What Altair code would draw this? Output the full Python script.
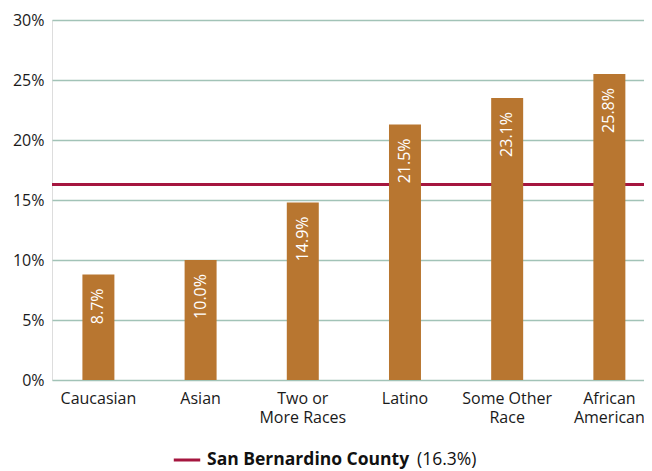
import altair as alt
import pandas as pd

categories = ["Caucasian", "Asian", "Two or More Races", "Latino", "Some Other Race", "African American"]
bar_values = [8.8, 10.0, 14.8, 21.3, 23.5, 25.5]
bar_labels = ["8.7%", "10.0%", "14.9%", "21.5%", "23.1%", "25.8%"]
county_name = "San Bernardino County"
county_value = 16.3
y_ticks = [0, 5, 10, 15, 20, 25, 30]

FONT = "Open Sans"
BAR = "#b87630"
RED = "#a5163f"
GRID = "#a2c3b7"
TXT = "#1a1a1a"

bars_df = pd.DataFrame({"cat": categories, "value": bar_values, "label": bar_labels})
county_df = pd.DataFrame({"series": [county_name], "value": [county_value]})
note_df = pd.DataFrame({"t": [f"({county_value}%)"]})

x_enc = alt.X(
    "cat:N",
    sort=categories,
    title=None,
    scale=alt.Scale(paddingInner=0.687, paddingOuter=0.24, align=0.62),
    axis=alt.Axis(
        labelAngle=0,
        domain=False,
        ticks=False,
        labelPadding=10,
        labelFontSize=16,
        labelFont=FONT,
        labelColor=TXT,
        labelLineHeight=19,
        labelExpr="datum.label == 'Two or More Races' ? ['Two or', 'More Races'] : "
                  "datum.label == 'Some Other Race' ? ['Some Other', 'Race'] : "
                  "datum.label == 'African American' ? ['African', 'American'] : datum.label",
    ),
)
y_scale = alt.Scale(domain=[0, 30], nice=False)
y_axis = alt.Axis(
    values=y_ticks,
    labelExpr="datum.value + '%'",
    domain=False,
    ticks=False,
    grid=True,
    gridColor=GRID,
    gridWidth=1.5,
    labelPadding=8,
    labelFontSize=16,
    labelFont=FONT,
    labelColor=TXT,
    title=None,
)

county_rule = alt.Chart(county_df).mark_rule(strokeWidth=3).encode(
    y=alt.Y("value:Q", scale=y_scale, axis=y_axis),
    color=alt.Color(
        "series:N",
        scale=alt.Scale(range=[RED]),
        legend=alt.Legend(
            title=None,
            orient="none",
            legendX=120,
            legendY=425,
            symbolType="stroke",
            symbolSize=700,
            symbolStrokeWidth=3,
            labelFontSize=17.5,
            labelFont=FONT,
            labelFontWeight="bold",
            labelColor="#111111",
            labelOffset=5,
            labelLimit=0,
        ),
    ),
)

bars = alt.Chart(bars_df).mark_bar(color=BAR).encode(
    x=x_enc,
    y=alt.Y("value:Q", scale=y_scale, axis=y_axis),
)

labels = alt.Chart(bars_df).mark_text(
    angle=270, align="right", baseline="middle", dx=-14, color="white",
    fontSize=16, font=FONT,
).encode(
    x=alt.X("cat:N", sort=categories),
    y=alt.Y("value:Q", scale=y_scale),
    text="label:N",
)

note = alt.Chart(note_df).mark_text(
    align="left", baseline="middle", fontSize=17.5, font=FONT, color="#111111",
).encode(
    x=alt.value(365),
    y=alt.value(440),
    text="t:N",
)

chart = alt.layer(county_rule, bars, labels, note).properties(
    width=592,
    height=360,
    autosize=alt.AutoSizeParams(type="none"),
    padding={"left": 44, "top": 12, "right": 0, "bottom": 91},
).configure_view(stroke=None).configure(background="white")

chart.save("out.html", embed_options={"renderer": "svg", "actions": False})
